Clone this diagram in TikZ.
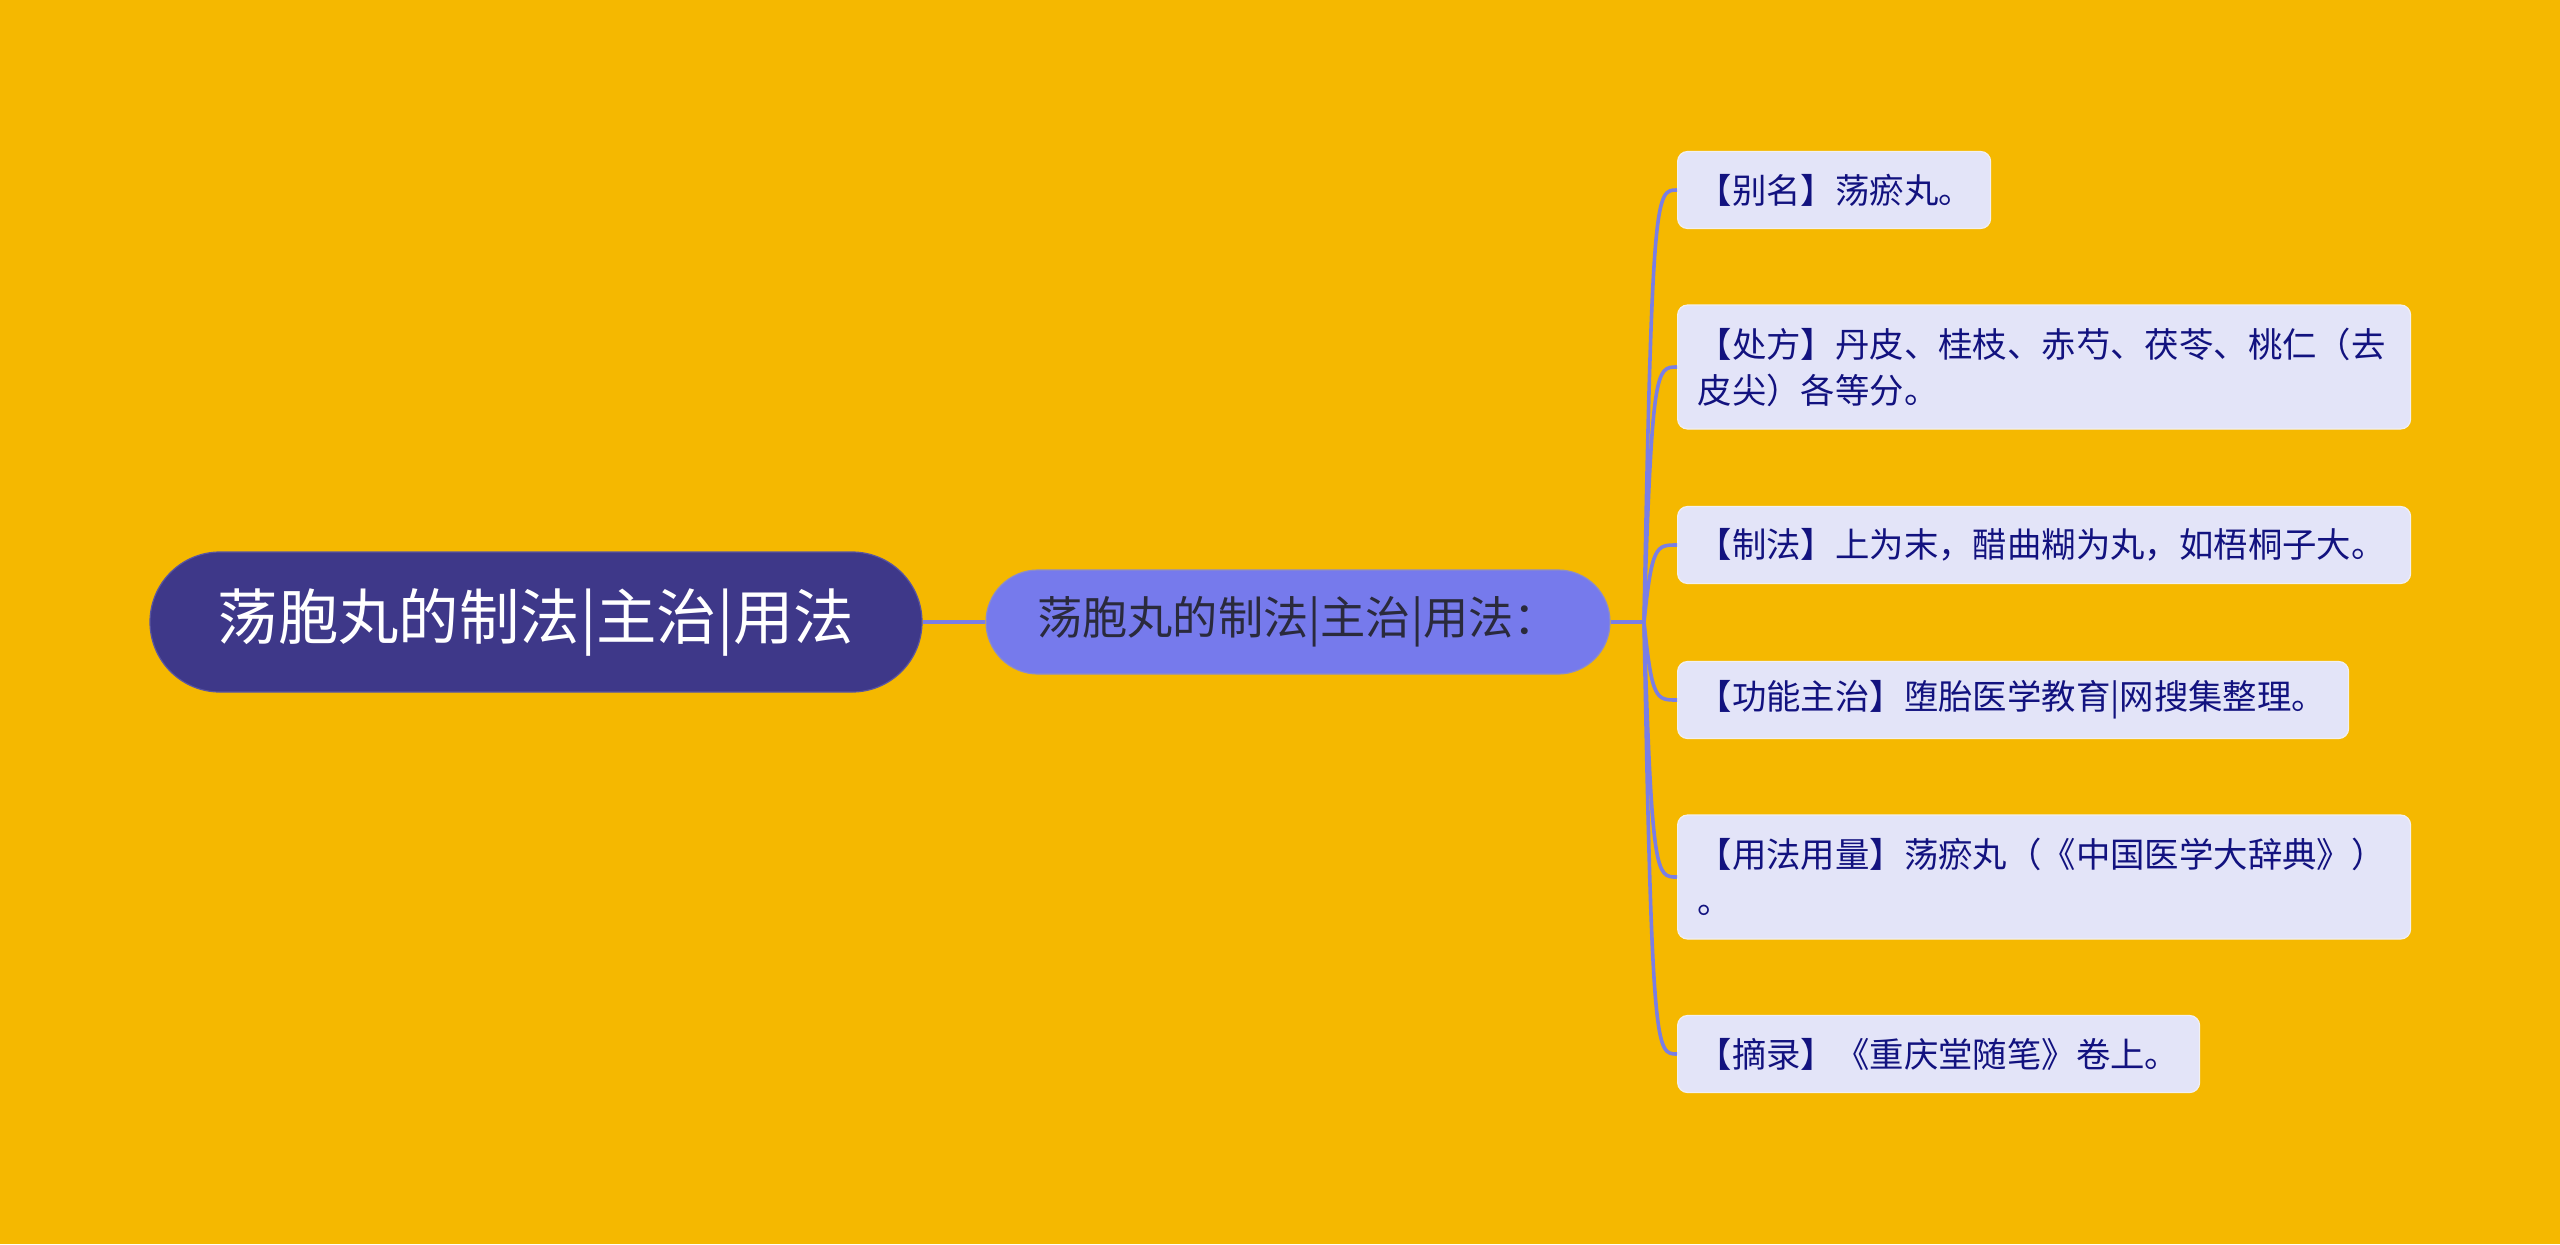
\documentclass[tikz,border=0pt]{standalone}
\usepackage{fontspec}
\setmainfont{Noto Sans CJK SC}
\usetikzlibrary{calc}
\definecolor{bgc}{HTML}{F5B800}
\definecolor{rootfill}{HTML}{3E3889}
\definecolor{rootdraw}{HTML}{5A55A0}
\definecolor{midfill}{HTML}{767AEC}
\definecolor{middraw}{HTML}{8C8CC8}
\definecolor{midtext}{HTML}{2A2A3C}
\definecolor{leaffill}{HTML}{E3E4F8}
\definecolor{leafdraw}{HTML}{F2F0F0}
\definecolor{leaftext}{HTML}{12127F}
\definecolor{linec}{HTML}{7A7EE4}
\tikzset{
  rootbox/.style={draw=rootdraw, line width=0.6pt, fill=rootfill, text=white,
    rounded corners=35pt, minimum width=386pt, minimum height=70pt, inner sep=0pt,
    font=\fontsize{30.2pt}{36pt}\selectfont},
  midbox/.style={draw=middraw, line width=0.6pt, fill=midfill, text=midtext,
    rounded corners=26pt, minimum width=312pt, minimum height=52pt, inner sep=0pt,
    font=\fontsize{22.6pt}{28pt}\selectfont},
  leafbox/.style={draw=leafdraw, line width=0.6pt, fill=leaffill, text=leaftext,
    rounded corners=5pt, anchor=west, inner xsep=10pt, inner ysep=0pt, align=left,
    font=\fontsize{17.2pt}{23pt}\selectfont},
  conn/.style={draw=linec, line width=1.8pt},
}
\begin{document}
\begin{tikzpicture}[x=0.5pt,y=-0.5pt]
\fill[bgc] (0,0) rectangle (2560,1244);
\useasboundingbox (0,0) rectangle (2560,1244);
\node[rootbox] (root) at (536,622) {荡胞丸的制法|主治|用法};
\node[midbox] (mid) at (1298,622) {荡胞丸的制法|主治|用法：};
\coordinate (J) at (1644,622);
\node[leafbox, text width=136.5pt, minimum height=38.5pt] (l1) at (1677,190) {【别名】荡瘀丸。};
\node[leafbox, text width=346.5pt, minimum height=62pt] (l2) at (1677,367) {【处方】丹皮、桂枝、赤芍、茯苓、桃仁（去\\皮尖）各等分。};
\node[leafbox, text width=346.5pt, minimum height=38.5pt] (l3) at (1677,545) {【制法】上为末，醋曲糊为丸，如梧桐子大。};
\node[leafbox, text width=315.5pt, minimum height=38.5pt] (l4) at (1677,700) {【功能主治】堕胎医学教育|网搜集整理。};
\node[leafbox, text width=346.5pt, minimum height=62pt] (l5) at (1677,877) {【用法用量】荡瘀丸（《中国医学大辞典》）\\。};
\node[leafbox, text width=241pt, minimum height=38.5pt] (l6) at (1677,1054) {【摘录】《重庆堂随笔》卷上。};
\draw[conn] (root.east) -- (mid.west);
\draw[conn] (mid.east) -- (J);
\foreach \n in {l1,l2,l3,l4,l5,l6}{
  \draw[conn] (J) .. controls ($(J |- \n.west)+(8,0)$) and ($(J |- \n.west)+(12,0)$) .. (\n.west);
}
\end{tikzpicture}
\end{document}
